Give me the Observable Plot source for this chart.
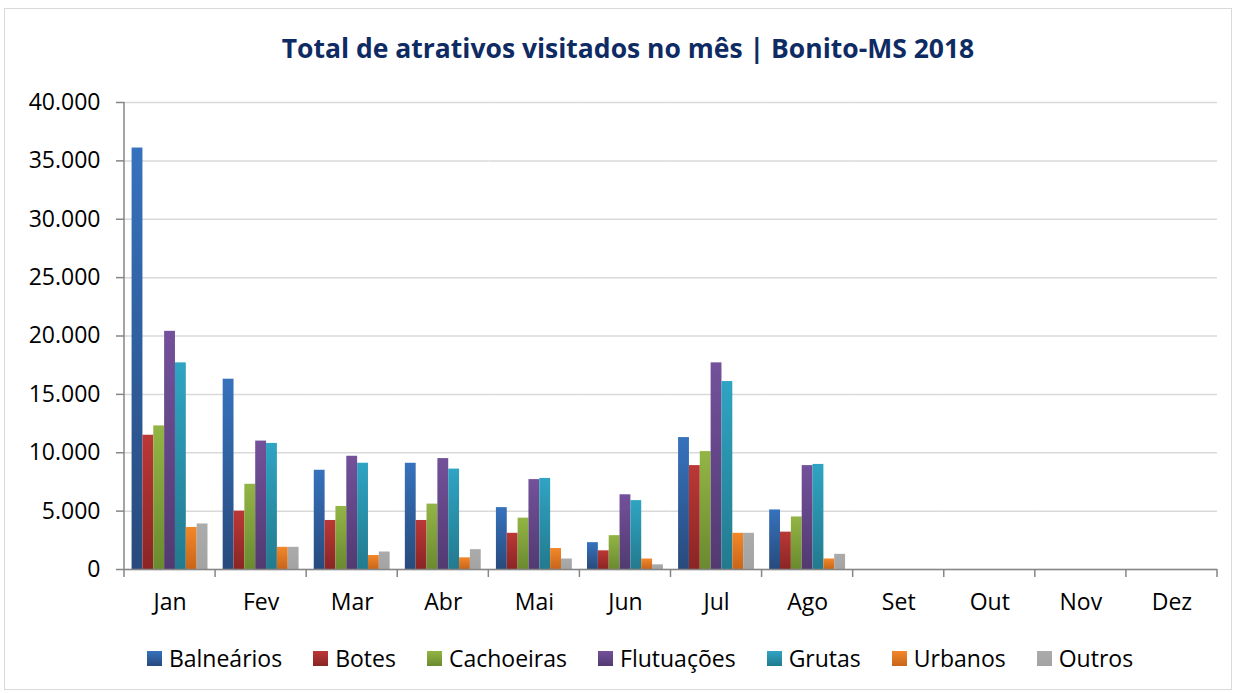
<!DOCTYPE html>
<html><head><meta charset="utf-8">
<script src="https://cdn.jsdelivr.net/npm/d3@7"></script>
<script src="https://cdn.jsdelivr.net/npm/@observablehq/plot@0.6"></script>
<style>
body{margin:0;background:#fff;font-family:"Open Sans",sans-serif;}
#frame{position:absolute;left:4px;top:8px;width:1228px;height:682px;border:1px solid #d9d9d9;box-sizing:border-box}
#title{position:absolute;left:0;width:1256px;top:30px;text-align:center;font-weight:bold;font-size:26.5px;color:#0f2b63}
#chart{position:absolute;left:0;top:80px}
#legend{position:absolute;left:0;width:1280px;top:642px;display:flex;justify-content:center;font-size:23px;color:#000}
.item{display:flex;align-items:center;margin-right:31px}
.item:last-child{margin-right:0}
.sw{width:15px;height:15px;margin-right:7px}
</style></head>
<body>
<div id="frame"></div>
<div id="title">Total de atrativos visitados no mês | Bonito-MS 2018</div>
<div id="chart"></div>
<div id="legend"></div>
<script>
const months = ["Jan","Fev","Mar","Abr","Mai","Jun","Jul","Ago","Set","Out","Nov","Dez"];
const series = ["Balneários","Botes","Cachoeiras","Flutuações","Grutas","Urbanos","Outros"];
const balnearios = [36100,16300,8500,9100,5300,2300,11300,5100];
const botes      = [11500,5000,4200,4200,3100,1600,8900,3200];
const cachoeiras = [12300,7300,5400,5600,4400,2900,10100,4500];
const flutuacoes = [20400,11000,9700,9500,7700,6400,17700,8900];
const grutas     = [17700,10800,9100,8600,7800,5900,16100,9000];
const urbanos    = [3600,1900,1200,1000,1800,900,3100,900];
const outros     = [3900,1900,1500,1700,900,400,3100,1300];
const yTicks = [0,5000,10000,15000,20000,25000,30000,35000,40000];
const colorTop = ["#3672bd","#bb3836","#93b545","#73519b","#2fa4c3","#f3882a","#ababab"];
const colorBot = ["#284a7c","#8a2524","#6a8a2e","#523a70","#237a8e","#c7651a","#a3a3a3"];

const valuesBySeries = [balnearios,botes,cachoeiras,flutuacoes,grutas,urbanos,outros];
const data = [];
months.forEach((m,i)=>series.forEach((s,j)=>{
  const v = valuesBySeries[j][i];
  data.push({month:m, series:s, value: v === undefined ? null : v});
}));

const fmt = d3.formatLocale({decimal:",",thousands:".",grouping:[3],currency:["R$",""]}).format(",");

const plot = Plot.plot({
  width:1235, height:540, marginLeft:124, marginRight:18, marginTop:22, marginBottom:51,
  fx:{domain:months, padding:0, label:null, round:false},
  x:{domain:series, axis:null, paddingInner:0, paddingOuter:0.7, round:false},
  y:{domain:[0,40000], label:null},
  color:{domain:series, range:series.map((s,i)=>`url(#grad${i})`)},
  style:{fontFamily:"Open Sans", fontSize:"23px", color:"#000", background:"transparent"},
  marks:[
    Plot.gridY(yTicks,{stroke:"#d9d9d9", strokeOpacity:1, strokeWidth:1.5}),
    Plot.axisY(yTicks,{tickSize:8, tickPadding:16, tickFormat:fmt, stroke:"#868686", strokeWidth:1.5, fill:"#000", fontSize:23, label:null}),
    Plot.axisFx({anchor:"bottom", tickSize:0, tickPadding:24, fontSize:23, label:null, fill:"#000"}),
    Plot.barY(data,{fx:"month", x:"series", y:"value", fill:"series", inset:0}),
    Plot.ruleY([0],{stroke:"#868686", strokeWidth:1.5})
  ]
});

const svg = d3.select(plot);
const defs = svg.insert("defs",":first-child");
colorTop.forEach((c,i)=>{
  const g = defs.append("linearGradient").attr("id","grad"+i).attr("x1",0).attr("y1",0).attr("x2",0).attr("y2",1);
  g.append("stop").attr("offset","0%").attr("stop-color",c);
  g.append("stop").attr("offset","100%").attr("stop-color",colorBot[i]);
});
const fx = plot.scale("fx"), y = plot.scale("y");
const y0 = y.apply(0), yTop = y.apply(40000);
const edges = months.map(m=>fx.apply(m)).concat([fx.apply(months[months.length-1]) + fx.bandwidth]);
const extra = svg.append("g").attr("stroke","#868686").attr("stroke-width",1.5);
extra.append("line").attr("x1",edges[0]).attr("x2",edges[0]).attr("y1",yTop).attr("y2",y0);
edges.forEach(e=>extra.append("line").attr("x1",e).attr("x2",e).attr("y1",y0).attr("y2",y0+8));

document.getElementById("chart").appendChild(plot);

const legend = d3.select("#legend");
series.forEach((s,i)=>{
  const it = legend.append("div").attr("class","item");
  it.append("div").attr("class","sw").style("background",`linear-gradient(${colorTop[i]},${colorBot[i]})`);
  it.append("span").text(s);
});
</script>
</body></html>
